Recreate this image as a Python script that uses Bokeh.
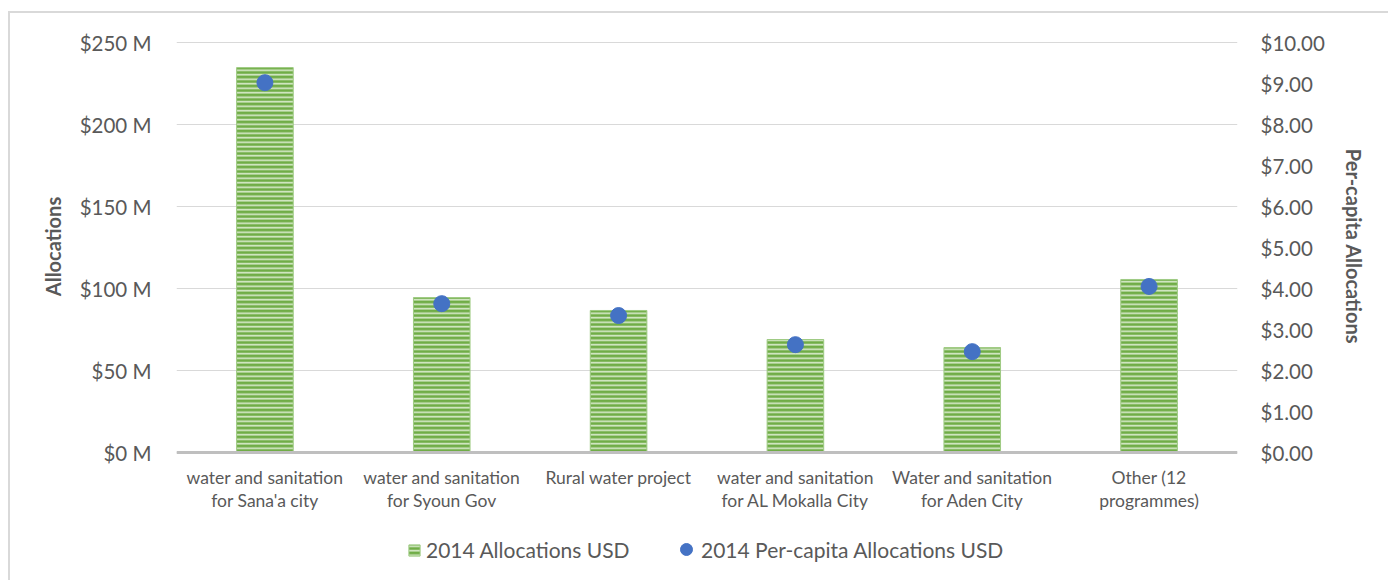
from bokeh.plotting import figure
from bokeh.models import (Range1d, LinearAxis, FixedTicker, NumeralTickFormatter,
                          Legend, LegendItem, ColumnDataSource, FactorRange, LabelSet, Span)
from bokeh.core.properties import value
from bokeh.layouts import column
from bokeh.embed import file_html
from bokeh.resources import INLINE

categories = ["water and sanitation\nfor Sana'a city",
              "water and sanitation\nfor Syoun Gov",
              "Rural water project",
              "water and sanitation\nfor AL Mokalla City",
              "Water and sanitation\nfor Aden City",
              "Other (12\nprogrammes)"]
allocations_musd = [234.7, 94.5, 86.6, 68.9, 64.0, 105.5]
per_capita_usd = [9.02, 3.63, 3.34, 2.63, 2.46, 4.05]
left_ticks = [0, 50, 100, 150, 200, 250]
left_tick_labels = ["$0 M", "$50 M", "$100 M", "$150 M", "$200 M", "$250 M"]
right_ticks = [0, 1, 2, 3, 4, 5, 6, 7, 8, 9, 10]

FONT = "Lato"
TXT = "#595959"
GREEN = "#70AD47"
BLUE = "#4472C4"
BAR_STYLE = dict(fill_color=GREEN, line_color="#9fcb84", line_width=1,
                 hatch_pattern="horizontal_line", hatch_color="#dcedd1",
                 hatch_scale=4.5, hatch_weight=1.6)

PX_PER_M = 1.64  # pixels per million USD on the left scale
xr = FactorRange(*categories, range_padding=0)
src = ColumnDataSource(dict(cat=categories, alloc=allocations_musd, pc=per_capita_usd))

# ---------------- main chart ----------------
y_lo, y_hi = -12 / PX_PER_M, 250 + 14 / PX_PER_M
p = figure(width=1378, height=451, x_range=xr, y_range=Range1d(y_lo, y_hi),
           output_backend="svg", toolbar_location=None, x_axis_location=None,
           min_border_left=166, min_border_right=151, min_border_top=15, min_border_bottom=0)
p.extra_y_ranges = {"pc": Range1d(y_lo / 25, y_hi / 25)}
p.outline_line_color = None

bars = p.vbar(x="cat", top="alloc", width=0.32, source=src, **BAR_STYLE)
dots = p.scatter(x="cat", y="pc", y_range_name="pc", source=src, size=16,
                 fill_color=BLUE, line_color=BLUE)

ya = p.yaxis[0]
ya.ticker = FixedTicker(ticks=left_ticks)
ya.major_label_overrides = {t: l for t, l in zip(left_ticks, left_tick_labels)}
ya.axis_line_color = None
ya.major_tick_line_color = None
ya.minor_tick_line_color = None
ya.major_label_standoff = 19
ya.major_label_text_font = FONT
ya.major_label_text_font_size = "20.5px"
ya.major_label_text_color = TXT
ya.axis_label = "Allocations"
ya.axis_label_text_font = FONT
ya.axis_label_text_font_size = "20px"
ya.axis_label_text_font_style = "bold"
ya.axis_label_text_color = TXT
ya.axis_label_standoff = 12

ra = LinearAxis(y_range_name="pc", ticker=FixedTicker(ticks=right_ticks),
                formatter=NumeralTickFormatter(format="$0.00"))
ra.axis_line_color = None
ra.major_tick_line_color = None
ra.minor_tick_line_color = None
ra.major_label_standoff = 17
ra.major_label_text_font = FONT
ra.major_label_text_font_size = "20.5px"
ra.major_label_text_color = TXT
ra.axis_label = "Per-capita Allocations"
ra.axis_label_text_font = FONT
ra.axis_label_text_font_size = "20px"
ra.axis_label_text_font_style = "bold"
ra.axis_label_text_color = TXT
ra.axis_label_standoff = 14
p.add_layout(ra, "right")

p.xgrid.grid_line_color = None
p.ygrid.ticker = FixedTicker(ticks=left_ticks)
p.ygrid.grid_line_color = "#d9d9d9"
p.ygrid.grid_line_width = 1

# category axis line
p.add_layout(Span(location=0, dimension="width", line_color="#bfbfbf", line_width=3))

# ---------------- category labels + legend ----------------
p2 = figure(width=1378, height=116, x_range=xr, y_range=Range1d(0, 116),
            output_backend="svg", toolbar_location=None,
            x_axis_location=None, y_axis_location=None,
            min_border_left=166, min_border_right=151, min_border_top=0, min_border_bottom=0)
p2.outline_line_color = None
p2.grid.grid_line_color = None

line1 = [c.split("\n")[0] for c in categories]
line2 = [c.split("\n")[1] if "\n" in c else "" for c in categories]
lab_src = ColumnDataSource(dict(cat=categories, l1=line1, l2=line2,
                                y1=[114] * len(categories), y2=[91] * len(categories)))
for txt, yy in (("l1", "y1"), ("l2", "y2")):
    p2.add_layout(LabelSet(x="cat", y=yy, text=txt, source=lab_src,
                           text_align="center", text_baseline="top",
                           text_font=value(FONT), text_font_size=value("17.5px"),
                           text_color=TXT))

# legend proxies (drawn off-screen on a separate range, used only for legend glyphs)
p2.extra_y_ranges = {"off": Range1d(1000, 2000)}
lbar = p2.vbar(x="cat", top="alloc", width=0.32, source=src, y_range_name="off", **BAR_STYLE)
ldot = p2.scatter(x="cat", y="pc", source=src, y_range_name="off", size=16,
                  fill_color=BLUE, line_color=BLUE)

leg_a = Legend(items=[LegendItem(label="2014 Allocations USD", renderers=[lbar])],
               location=(231, 18), orientation="horizontal",
               label_text_font=FONT, label_text_font_size="21px", label_text_color=TXT,
               border_line_color=None, background_fill_alpha=0,
               label_standoff=5, glyph_width=14, glyph_height=14, margin=0, padding=0)
leg_b = Legend(items=[LegendItem(label="2014 Per-capita Allocations USD", renderers=[ldot])],
               location=(495, 16), orientation="horizontal",
               label_text_font=FONT, label_text_font_size="21px", label_text_color=TXT,
               border_line_color=None, background_fill_alpha=0,
               label_standoff=0, glyph_width=30, glyph_height=30, margin=0, padding=0)
p2.add_layout(leg_a, "center")
p2.add_layout(leg_b, "center")

layout = column(p, p2, spacing=0,
                styles={"margin-left": "8px", "margin-top": "11px",
                        "border-left": "2px solid #d9d9d9", "border-top": "2px solid #d9d9d9"})

open("out.html", "w").write(file_html(layout, INLINE))
